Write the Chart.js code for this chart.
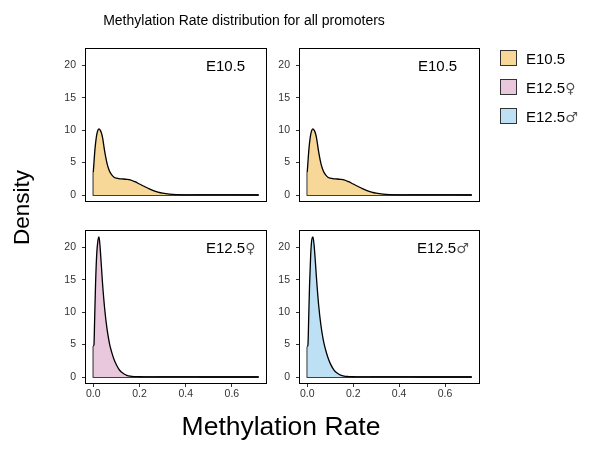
<!DOCTYPE html>
<html>
<head>
<meta charset="utf-8">
<script src="https://cdn.jsdelivr.net/npm/chart.js@4/dist/chart.umd.min.js"></script>
<style>
  body { margin: 0; background: #fff; width: 589px; height: 450px; position: relative; overflow: hidden; }
  canvas { position: absolute; }
  svg { position: absolute; left: 0; top: 0; pointer-events: none; }
  text { font-family: "Liberation Sans", Arial, sans-serif; fill: #000; }
  .sym { font-family: "DejaVu Sans", sans-serif; fill: #555; }
</style>
</head>
<body>
<canvas id="p1"></canvas>
<canvas id="p2"></canvas>
<canvas id="p3"></canvas>
<canvas id="p4"></canvas>

<svg width="589" height="450">
  <text x="244" y="25" font-size="14" text-anchor="middle">Methylation Rate distribution for all promoters</text>
  <text x="281" y="435" font-size="26.5" text-anchor="middle">Methylation Rate</text>
  <text transform="translate(28.5,207.5) rotate(-90)" font-size="22.5" text-anchor="middle">Density</text>

  <text x="206" y="71" font-size="15">E10.5</text>
  <text x="418" y="71" font-size="15">E10.5</text>
  <text x="206" y="253" font-size="15">E12.5<tspan class="sym" font-size="14">♀</tspan></text>
  <text x="417" y="253" font-size="15">E12.5<tspan class="sym" font-size="14">♂</tspan></text>

  <rect x="500.5" y="50.5" width="16" height="15" fill="#F7D898" stroke="#333" stroke-width="1"/>
  <rect x="500.5" y="79.5" width="16" height="15" fill="#E9C7DD" stroke="#333" stroke-width="1"/>
  <rect x="500.5" y="108.5" width="16" height="15" fill="#BEE0F4" stroke="#333" stroke-width="1"/>
  <text x="526" y="63.5" font-size="15">E10.5</text>
  <text x="526" y="92.5" font-size="15">E12.5<tspan class="sym" font-size="14">♀</tspan></text>
  <text x="526" y="121.5" font-size="15">E12.5<tspan class="sym" font-size="14">♂</tspan></text>
</svg>

<script>
// methylation rate grid (x) shared by all the density curves
const rateGrid = [0, 0.003, 0.006, 0.01, 0.015, 0.02, 0.025, 0.03, 0.035, 0.04, 0.05, 0.06, 0.07, 0.08, 0.09, 0.1,
    0.115, 0.13, 0.145, 0.16, 0.18, 0.2, 0.22, 0.24, 0.26, 0.28, 0.3, 0.33, 0.36, 0.4, 0.45, 0.5, 0.6, 0.716];

// densities
const densityE105 = [3.5, 5.0, 6.5, 8.0, 9.3, 10.0, 10.2, 10.0, 9.6, 8.9, 6.6, 4.8, 3.7, 3.1, 2.75, 2.6,
    2.5, 2.47, 2.42, 2.33, 2.05, 1.7, 1.35, 0.98, 0.68, 0.45, 0.28, 0.13, 0.06, 0.03, 0.015, 0.01, 0.005, 0.002];
const densityE125F = [4.8, 5.0, 9.0, 14.5, 19.0, 21.0, 21.6, 19.8, 17.2, 14.5, 10.3, 7.3, 5.2, 3.8, 2.7, 1.9,
    1.0, 0.55, 0.26, 0.12, 0.06, 0.04, 0.03, 0.025, 0.02, 0.015, 0.01, 0.008, 0.006, 0.005, 0.004, 0.003, 0.002, 0.001];
const densityE125M = [4.7, 4.9, 8.5, 14.0, 18.8, 21.2, 21.6, 20.3, 18.0, 15.4, 11.0, 7.9, 5.7, 4.2, 3.0, 2.1,
    1.15, 0.6, 0.3, 0.14, 0.07, 0.04, 0.03, 0.025, 0.02, 0.015, 0.01, 0.008, 0.006, 0.005, 0.004, 0.003, 0.002, 0.001];

const xTicks = [0, 0.2, 0.4, 0.6];
const yTicks = [0, 5, 10, 15, 20];
const xRange = [-0.0358, 0.752];
const yRange = [-1.08, 22.68];

const AXW = 45, AXH = 22, PAD = 6;
const tickFont = { family: '"Liberation Sans", Arial, sans-serif', size: 10.5 };

// black frame round each panel
const panelBox = {
    id: 'panelBox',
    afterDraw(chart) {
        const ctx = chart.ctx, a = chart.chartArea;
        ctx.save();
        ctx.strokeStyle = '#000';
        ctx.lineWidth = 1;
        ctx.strokeRect(a.left + 0.5, a.top + 0.5, a.right - a.left - 1, a.bottom - a.top - 1);
        ctx.restore();
    }
};

function makePanel(id, left, top, width, height, values, colour, showX) {
    const canvas = document.getElementById(id);
    canvas.width = width + AXW + PAD;
    canvas.height = height + PAD + AXH;
    canvas.style.left = (left - AXW) + 'px';
    canvas.style.top = (top - PAD) + 'px';

    const points = rateGrid.map((x, i) => ({ x: x, y: values[i] }));
    const last = rateGrid[rateGrid.length - 1];

    return new Chart(canvas, {
        type: 'line',
        data: {
            datasets: [{
                data: points,
                fill: 'origin',
                backgroundColor: colour,
                borderColor: '#000',
                borderWidth: 1.3,
                pointRadius: 0,
                cubicInterpolationMode: 'monotone'
            }, {
                // bottom and left edges of the density polygon
                data: [{ x: last, y: 0 }, { x: 0, y: 0 }, { x: 0, y: values[0] }],
                fill: false,
                borderColor: '#000',
                borderWidth: 1.3,
                pointRadius: 0
            }]
        },
        options: {
            responsive: false,
            animation: false,
            layout: { padding: { left: 0, top: PAD, right: PAD, bottom: 0 } },
            plugins: { legend: { display: false }, tooltip: { enabled: false } },
            scales: {
                x: {
                    type: 'linear',
                    min: xRange[0], max: xRange[1],
                    afterBuildTicks: s => { s.ticks = xTicks.map(v => ({ value: v })); },
                    ticks: { display: showX, font: tickFont, color: '#333', padding: 1, maxRotation: 0,
                             callback: v => v.toFixed(1) },
                    grid: { display: showX, drawOnChartArea: false, tickLength: 3, color: '#333' },
                    border: { display: false },
                    afterFit: s => { s.height = AXH; s.paddingLeft = 0; s.paddingRight = 0; }
                },
                y: {
                    min: yRange[0], max: yRange[1],
                    afterBuildTicks: s => { s.ticks = yTicks.map(v => ({ value: v })); },
                    ticks: { font: tickFont, color: '#333', padding: 6 },
                    grid: { drawOnChartArea: false, tickLength: 3, color: '#333' },
                    border: { display: false },
                    afterFit: s => { s.width = AXW; s.paddingTop = 0; s.paddingBottom = 0; }
                }
            }
        },
        plugins: [panelBox]
    });
}

makePanel('p1', 85, 48, 182, 154, densityE105, '#F7D898', false);
makePanel('p2', 299, 48, 181, 154, densityE105, '#F7D898', false);
makePanel('p3', 85, 230, 182, 154, densityE125F, '#E9C7DD', true);
makePanel('p4', 299, 230, 181, 154, densityE125M, '#BEE0F4', true);
</script>
</body>
</html>
